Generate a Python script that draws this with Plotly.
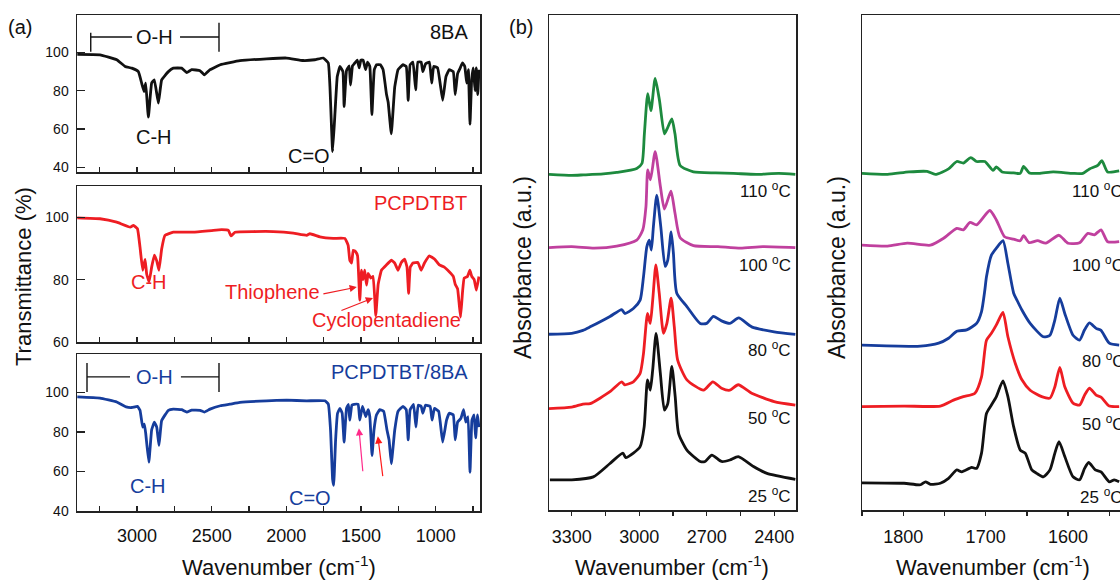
import plotly.graph_objects as go

FONT = "Liberation Sans, Arial, sans-serif"
AX = "#222222"

# ---------------- Panel (a): FTIR transmittance ----------------
ba_wn = [3400, 3248, 3136, 3080, 3035, 2991, 2969, 2953, 2942, 2924, 2902, 2884, 2857, 2835, 2790, 2757, 2701,
         2667, 2634, 2578, 2549, 2511, 2442, 2311, 2132, 1998, 1887, 1809, 1753, 1719, 1708, 1690, 1673, 1659,
         1641, 1621, 1613, 1597, 1579, 1570, 1557, 1546, 1525, 1512, 1501, 1486, 1469, 1456, 1441, 1427, 1411,
         1396, 1370, 1352, 1329, 1318, 1297, 1274, 1252, 1219, 1197, 1184, 1171, 1152, 1134, 1119, 1097, 1086,
         1068, 1042, 1026, 1013, 987, 953, 931, 909, 882, 869, 853, 835, 820, 805, 792, 781, 770, 759, 748, 736,
         728, 718, 710]
ba_t = [99, 98.8, 96.2, 92.7, 91.8, 90, 84, 79.6, 84, 66.2, 84, 85.7, 73.5, 85.7, 90, 91.8, 91.8,
        89.5, 91, 90.5, 88.3, 91, 93.6, 95.7, 96.7, 97.1, 95.8, 96.2, 97.1, 94.5, 82.2, 48.2, 70, 87.4,
        92.7, 90, 71.7, 90.5, 93, 83, 93, 94, 96, 92, 96, 96, 91, 95, 92.7, 67.5, 91,
        93.6, 93.6, 91, 78, 74, 57.5, 82, 91, 93.6, 92.7, 75, 93.6, 95, 80.5, 95, 95, 90,
        94, 95, 84, 92.7, 92, 75, 87.4, 91, 90, 78, 89, 92, 94.5, 92.7, 84, 91, 62.5, 85.7, 92, 80,
        92, 78, 91]

pc_wn = [3400, 3248, 3136, 3046, 3024, 2997, 2980, 2962, 2946, 2935, 2919, 2902, 2884, 2868, 2853, 2835, 2813,
         2757, 2623, 2489, 2433, 2388, 2371, 2344, 2221, 2087, 1953, 1864, 1842, 1775, 1686, 1608, 1586, 1575,
         1563, 1552, 1537, 1523, 1508, 1497, 1486, 1475, 1463, 1452, 1434, 1419, 1401, 1385, 1363, 1330, 1296,
         1274, 1252, 1230, 1208, 1192, 1181, 1170, 1152, 1119, 1097, 1075, 1042, 1008, 975, 942, 909, 882, 869,
         853, 842, 833, 820, 809, 787, 771, 758, 742, 727, 710]
pc_t = [99.8, 99.5, 98.4, 96.8, 97.4, 96.3, 90.4, 83, 86.5, 81.7, 79.3, 84, 87.8, 86, 83, 89.8, 94.2,
        95.2, 95.2, 95.8, 96, 95.8, 94, 95.2, 95.4, 95.4, 94.9, 94.2, 94.7, 93.7, 93.2, 93.2, 91, 86.2,
        85.3, 89.4, 89, 87.6, 73.4, 83, 80, 83, 78.2, 82, 80.5, 81, 68.5, 78.5, 83, 84.7, 86.2,
        85.3, 83, 85.5, 86.6, 84, 75.6, 84, 85.3, 85.5, 83, 85.3, 87.6, 86.6, 84.7, 84, 82.5, 81, 78.5,
        77, 72, 68, 76, 80.5, 81, 83, 81, 80, 76.6, 81]

mix_wn = [3400, 3248, 3136, 3073, 3035, 2997, 2980, 2962, 2951, 2942, 2921, 2902, 2884, 2868, 2853, 2835, 2790,
          2757, 2701, 2667, 2634, 2578, 2549, 2511, 2442, 2378, 2311, 2132, 1998, 1864, 1742, 1719, 1704, 1690,
          1683, 1670, 1657, 1641, 1626, 1613, 1597, 1584, 1575, 1561, 1546, 1519, 1508, 1490, 1468, 1452, 1441,
          1426, 1413, 1396, 1374, 1348, 1326, 1312, 1297, 1274, 1252, 1219, 1197, 1184, 1171, 1148, 1132, 1117,
          1097, 1086, 1068, 1037, 1024, 1008, 980, 953, 927, 909, 882, 869, 853, 831, 813, 798, 783, 770, 757,
          743, 732, 721, 710]
mix_t = [97.8, 97.2, 95.2, 92.7, 92.4, 93, 91, 82.5, 84, 79.5, 64.7, 81.1, 85, 82.5, 73.2, 85.8, 91,
         91.6, 91.3, 90.1, 91.1, 91, 90.1, 91.6, 93.3, 94.1, 95, 95.8, 96.1, 95.8, 95.8, 94.1, 81, 56,
         53, 76, 89.5, 92, 89.5, 74.9, 92, 94, 86, 93.6, 94, 94, 86, 93, 87.8, 91.3, 87.8,
         68.1, 81, 88.7, 91.3, 90.5, 81, 76, 63.9, 81, 90.5, 93, 91.3, 76, 91.3, 94, 82.5, 93.6,
         93, 89.5, 93.6, 93, 86, 92, 90.5, 74.9, 86, 89.5, 88.7, 76, 85, 86.9, 91.3, 85, 87.8, 59.6, 86,
         88.7, 77, 88.7, 82.5]

# ---------------- Panel (b): absorbance vs temperature (offset, a.u.) ----------------
temp_labels = ["25", "50", "80", "100", "110"]
temp_colors = ["#111111", "#ee1d23", "#163d9c", "#c0409e", "#1d8a3e"]

ch_wn_25 = [3397, 3300, 3204, 3130, 3073, 3060, 3026, 2996, 2978, 2963, 2951, 2940, 2925, 2906, 2888, 2873,
            2855, 2840, 2825, 2788, 2729, 2707, 2677, 2634, 2597, 2560, 2492, 2432, 2306]
ch_a_25 = [6.1, 6.1, 6.7, 9.4, 11.5, 10.6, 11.5, 12.8, 16.8, 26.3, 24.2, 28.3, 35.7, 27.6, 20.2, 21.5,
           29, 22.9, 15.5, 12.1, 9.8, 9.8, 11.1, 9.8, 10.1, 10.8, 8.8, 7.4, 6.2]
ch_wn_50 = [3401, 3300, 3250, 3218, 3130, 3078, 3064, 3026, 2996, 2981, 2963, 2951, 2940, 2926, 2911, 2892,
            2877, 2858, 2844, 2829, 2788, 2714, 2673, 2634, 2597, 2560, 2500, 2400, 2306]
ch_a_50 = [20.5, 20.8, 21.4, 21.5, 23.9, 25.9, 25.3, 25.9, 27.6, 31.6, 39.7, 37.7, 42.4, 49.5, 43.8, 35.7,
           37.7, 42.8, 37, 30.3, 26.3, 24.2, 25.9, 24.6, 24.2, 25.3, 23.6, 21.9, 21.2]
ch_wn_80 = [3401, 3300, 3250, 3218, 3130, 3078, 3064, 3026, 2996, 2981, 2966, 2955, 2946, 2937, 2922, 2904,
            2885, 2873, 2858, 2848, 2833, 2788, 2729, 2700, 2670, 2634, 2597, 2558, 2500, 2400, 2306]
ch_a_80 = [35.5, 35.7, 36.3, 37, 39.1, 40.5, 39.7, 40.7, 42.4, 47.1, 53.2, 54.5, 52.5, 57.2, 63.6, 57.2,
           49.2, 50.5, 56.2, 51.9, 43.8, 41.1, 37.7, 37.7, 39.1, 38.2, 37.7, 38.8, 37, 36, 35.5]
ch_wn_100 = [3401, 3300, 3200, 3100, 3011, 2984, 2970, 2962, 2950, 2929, 2906, 2888, 2859, 2841, 2818, 2759,
             2650, 2550, 2450, 2306]
ch_a_100 = [53, 53.2, 52.9, 53.3, 54.5, 56.6, 61.3, 68.7, 66.7, 72.4, 65.4, 60.8, 64.4, 60, 55, 53.4,
            53.2, 52.9, 53.2, 53]
ch_wn_110 = [3401, 3300, 3248, 3160, 3100, 3011, 2988, 2977, 2962, 2948, 2929, 2910, 2888, 2876, 2855, 2841,
             2818, 2759, 2660, 2581, 2480, 2380, 2306]
ch_a_110 = [67.8, 67.6, 67.7, 67.9, 68.2, 69.0, 70, 76, 84.1, 80.7, 87.2, 82.8, 76, 77, 79, 76,
            69.6, 68.3, 68.1, 68, 67.8, 68, 67.8]

co_wn_25 = [1850, 1799, 1779, 1773, 1767, 1755, 1745, 1735, 1729, 1717, 1711, 1705, 1699, 1693, 1687, 1679,
            1673, 1666, 1658, 1652, 1644, 1638, 1630, 1622, 1616, 1611, 1604, 1594, 1586, 1580, 1575, 1567,
            1560, 1550, 1544, 1538]
co_a_25 = [5.5, 5.4, 5.1, 5.7, 5.2, 5.4, 6.4, 8.1, 7.7, 8.6, 8.4, 11.5, 19.5, 21.2, 22.9, 26.1,
           22.9, 16.8, 12.1, 11.5, 8.1, 7.4, 6.7, 8.1, 11.5, 13.8, 10.8, 6.7, 6.1, 8.4, 9.6, 8.1,
           7.7, 5.7, 6.1, 5.7]
co_wn_50 = [1850, 1799, 1755, 1739, 1727, 1713, 1705, 1699, 1693, 1687, 1679, 1673, 1664, 1656, 1646, 1632,
            1622, 1616, 1610, 1604, 1594, 1586, 1580, 1574, 1566, 1560, 1550, 1538]
co_a_50 = [20.9, 21, 21, 22.2, 22.9, 23.6, 26.9, 34.3, 35.7, 37.4, 39.9, 35, 29.6, 26.3, 24.2, 22.9,
           22.6, 24.9, 28.8, 24.9, 21.6, 21.2, 23.2, 24.6, 23.2, 22.8, 21, 20.9]
co_wn_80 = [1850, 1779, 1757, 1745, 1735, 1723, 1711, 1705, 1701, 1699, 1693, 1687, 1679, 1673, 1666, 1662,
            1656, 1646, 1630, 1622, 1616, 1610, 1604, 1594, 1586, 1580, 1574, 1566, 1560, 1550, 1538]
co_a_80 = [33.3, 33.1, 33.7, 34.7, 36.1, 36.4, 37.7, 40.1, 44.4, 47.1, 51.5, 52.9, 54.4, 49.8, 43.8, 42.4,
           40.4, 37.7, 35, 35.3, 38.4, 42.8, 39.7, 35.3, 34.3, 36.4, 37.8, 36.7, 36.3, 33.7, 33.3]
co_wn_100 = [1850, 1819, 1795, 1767, 1751, 1735, 1727, 1719, 1711, 1695, 1687, 1677, 1666, 1658, 1654, 1647,
             1637, 1627, 1611, 1600, 1586, 1576, 1568, 1560, 1552, 1538]
co_a_100 = [53.5, 53.3, 53.9, 53.5, 54.9, 56.9, 56.6, 58.1, 57.6, 60.5, 58.6, 55.2, 54.7, 54.4, 55.4, 54,
            54.4, 53.9, 55.5, 53.9, 54, 55.9, 55.6, 56.6, 54.2, 54.2]
co_wn_110 = [1850, 1819, 1793, 1771, 1761, 1745, 1735, 1727, 1718, 1711, 1701, 1691, 1687, 1680, 1666, 1658,
             1654, 1647, 1635, 1618, 1594, 1582, 1574, 1564, 1559, 1552, 1538]
co_a_110 = [68, 67.8, 68.3, 68.4, 67.8, 68.9, 70.4, 70.1, 71.2, 70.4, 70.4, 68.6, 69.3, 68.3, 68.1, 68,
            69.4, 68.1, 68, 68.3, 68, 68, 68.9, 69.6, 70.6, 68.3, 68.5]

ch_series = [(ch_wn_25, ch_a_25), (ch_wn_50, ch_a_50), (ch_wn_80, ch_a_80), (ch_wn_100, ch_a_100), (ch_wn_110, ch_a_110)]
co_series = [(co_wn_25, co_a_25), (co_wn_50, co_a_50), (co_wn_80, co_a_80), (co_wn_100, co_a_100), (co_wn_110, co_a_110)]
for a, b in [(ba_wn, ba_t), (pc_wn, pc_t), (mix_wn, mix_t)] + ch_series + co_series:
    assert len(a) == len(b), (len(a), len(b))

fig = go.Figure()

def add(x, y, color, xa, ya, w=2.8, smooth=0.5):
    fig.add_trace(go.Scatter(x=x, y=y, mode="lines",
                             line=dict(color=color, width=w, shape="spline", smoothing=smooth),
                             xaxis=xa, yaxis=ya, showlegend=False, hoverinfo="skip"))

add(ba_wn, ba_t, "#111111", "x", "y", smooth=0.3)
add(pc_wn, pc_t, "#ee1d23", "x2", "y2", smooth=0.3)
add(mix_wn, mix_t, "#163d9c", "x3", "y3", smooth=0.3)
for (wx, wy), c in zip(ch_series, temp_colors):
    add(wx, wy, c, "x4", "y4", 2.8, 0.6)
for (wx, wy), c in zip(co_series, temp_colors):
    add(wx, wy, c, "x5", "y5", 2.8, 0.6)

def px_x(p):
    return p / 1120.0

def px_y(p):
    return 1 - p / 580.0

A_DOM = [px_x(77), px_x(480)]
tick_font_x = dict(family=FONT, size=18, color="#111111")
tick_font_y = dict(family=FONT, size=14, color="#111111")

def xa_a(anchor, labels):
    return dict(domain=A_DOM, range=[3402, 703], anchor=anchor, showline=True, linecolor=AX, linewidth=1.5,
                mirror=True, ticks="inside", ticklen=5, tickwidth=1.3, tickcolor=AX, tick0=0, dtick=500,
                minor=dict(dtick=250, ticks="inside", ticklen=5, tickwidth=1.3, tickcolor=AX),
                showgrid=False, zeroline=False, showticklabels=labels, tickfont=tick_font_x,
                ticklabelstandoff=8)

def ya_a(anchor, dom, rng):
    return dict(domain=[px_y(dom[1]), px_y(dom[0])], range=rng, anchor=anchor, showline=True, linecolor=AX,
                linewidth=1.5, mirror=True, ticks="inside", ticklen=8, tickwidth=1.3, tickcolor=AX,
                tick0=0, dtick=20, showgrid=False, zeroline=False, tickfont=tick_font_y, ticklabelstandoff=4)

fig.update_layout(
    xaxis=xa_a("y", False), yaxis=ya_a("x", (15, 172), [37.5, 119.6]),
    xaxis2=xa_a("y2", False), yaxis2=ya_a("x2", (186, 342), [60, 110]),
    xaxis3=xa_a("y3", True), yaxis3=ya_a("x3", (354, 511), [40, 119.5]),
    xaxis4=dict(domain=[px_x(549), px_x(796)], range=[3401, 2303], anchor="y4", showline=True, linecolor=AX,
                linewidth=1.5, mirror=True, ticks="outside", ticklen=4, tickwidth=1.3, tickcolor=AX,
                tick0=0, dtick=300, minor=dict(dtick=150, ticks="outside", ticklen=4, tickwidth=1.3, tickcolor=AX),
                showgrid=False, zeroline=False, tickfont=tick_font_x, ticklabelstandoff=6),
    yaxis4=dict(domain=[px_y(510), px_y(15)], range=[0, 100], anchor="x4", showline=True, linecolor=AX,
                linewidth=1.5, mirror=True, ticks="", showticklabels=False, showgrid=False, zeroline=False),
    xaxis5=dict(domain=[px_x(862), 1.0], range=[1850, 1537], anchor="y5", showline=True, linecolor=AX,
                linewidth=1.5, mirror=True, ticks="outside", ticklen=4, tickwidth=1.3, tickcolor=AX,
                tick0=0, dtick=100, minor=dict(dtick=50, ticks="outside", ticklen=4, tickwidth=1.3, tickcolor=AX),
                showgrid=False, zeroline=False, tickfont=tick_font_x, ticklabelstandoff=6),
    yaxis5=dict(domain=[px_y(510), px_y(15)], range=[0, 100], anchor="x5", showline=True, linecolor=AX,
                linewidth=1.5, mirror=False, ticks="", showticklabels=False, showgrid=False, zeroline=False),
)

anns = []

def txt(text, x, y, xref, yref, size=20, color="#111111", xanchor="center", yanchor="middle", angle=0):
    anns.append(dict(text=text, x=x, y=y, xref=xref, yref=yref, showarrow=False, xanchor=xanchor,
                     yanchor=yanchor, textangle=angle, font=dict(family=FONT, size=size, color=color)))

def arrow(x, y, ax, ay, xref, yref, color):
    anns.append(dict(text="", x=x, y=y, ax=ax, ay=ay, xref=xref, yref=yref, axref=xref, ayref=yref,
                     showarrow=True, arrowhead=2, arrowsize=1.2, arrowwidth=1.2, arrowcolor=color))

# panel labels
txt("(a)", px_x(6), px_y(27), "paper", "paper", 20, xanchor="left")
txt("(b)", px_x(507), px_y(27), "paper", "paper", 20, xanchor="left")

# panel (a) texts
txt("8BA", 771, 110.6, "x", "y", 20, xanchor="right")
txt("C-H", 2886, 55.9, "x", "y", 20)
txt("C=O", 1849, 45.9, "x", "y", 20)
txt("O-H", 2880, 108.1, "x", "y", 20)

txt("PCPDTBT", 778, 104.4, "x2", "y2", 20, "#ee1d23", xanchor="right")
txt("C-H", 2920, 79.2, "x2", "y2", 20, "#ee1d23")
txt("Thiophene", 2096, 76.0, "x2", "y2", 20, "#ee1d23")
txt("Cyclopentadiene", 1327, 67.0, "x2", "y2", 20, "#ee1d23")
arrow(1528, 77.6, 1762, 75.3, "x2", "y2", "#ee1d23")
arrow(1420, 74.1, 1641, 69.9, "x2", "y2", "#ee1d23")

txt("PCPDTBT/8BA", 771, 110.3, "x3", "y3", 20, "#163d9c", xanchor="right")
txt("O-H", 2880, 107.9, "x3", "y3", 20, "#163d9c")
txt("C-H", 2926, 52.8, "x3", "y3", 20, "#163d9c")
txt("C=O", 1842, 46.7, "x3", "y3", 20, "#163d9c")
arrow(1514, 81.9, 1487, 59.4, "x3", "y3", "#ff2a8a")
arrow(1387, 77.8, 1353, 56.9, "x3", "y3", "#ff1a1a")

# panel (b) temperature labels
left_y = [3.1, 18.7, 32.6, 49.7, 64.6]
right_x = [1588, 1586, 1586, 1598, 1598]
right_y = [2.9, 17.5, 30.3, 49.6, 64.6]
for t, ly, rx, ry in zip(temp_labels, left_y, right_x, right_y):
    txt(t + " <sup>o</sup>C", 2315, ly, "x4", "y4", 17, xanchor="right")
    txt(t + " <sup>o</sup>C", rx, ry, "x5", "y5", 17, xanchor="left")

# axis titles
txt("Transmittance (%)", px_x(23), px_y(277), "paper", "paper", 22, angle=-90)
txt("Absorbance (a.u.)", px_x(523), px_y(268), "paper", "paper", 23, angle=-90)
txt("Absorbance (a.u.)", px_x(837), px_y(268), "paper", "paper", 23, angle=-90)
txt("Wavenumber (cm<sup>-1</sup>)", px_x(279), px_y(566), "paper", "paper", 22)
txt("Wavenumber (cm<sup>-1</sup>)", px_x(672), px_y(566), "paper", "paper", 22)
txt("Wavenumber (cm<sup>-1</sup>)", px_x(993), px_y(566), "paper", "paper", 22)

shapes = []

def seg(x0, y0, x1, y1, xref, yref):
    shapes.append(dict(type="line", x0=x0, y0=y0, x1=x1, y1=y1, xref=xref, yref=yref,
                       line=dict(color="#111111", width=1.4)))

# O-H brackets
seg(3310, 100.4, 3310, 110.3, "x", "y")
seg(2451, 100.4, 2451, 115.5, "x", "y")
seg(3310, 108.1, 3033, 108.1, "x", "y")
seg(2712, 108.1, 2451, 108.1, "x", "y")
seg(3335, 100.2, 3335, 114.9, "x3", "y3")
seg(2451, 100.2, 2451, 114.9, "x3", "y3")
seg(3335, 107.9, 3047, 107.9, "x3", "y3")
seg(2706, 107.9, 2451, 107.9, "x3", "y3")

fig.update_layout(
    annotations=anns, shapes=shapes, template="none",
    width=1120, height=580, autosize=False,
    margin=dict(l=0, r=0, t=0, b=0, pad=0),
    paper_bgcolor="white", plot_bgcolor="white",
    font=dict(family=FONT, color="#111111"),
)

fig.write_html("out.html", config={"displayModeBar": False, "staticPlot": True},
               post_script="document.body.style.margin='0';document.body.style.overflow='hidden';")
